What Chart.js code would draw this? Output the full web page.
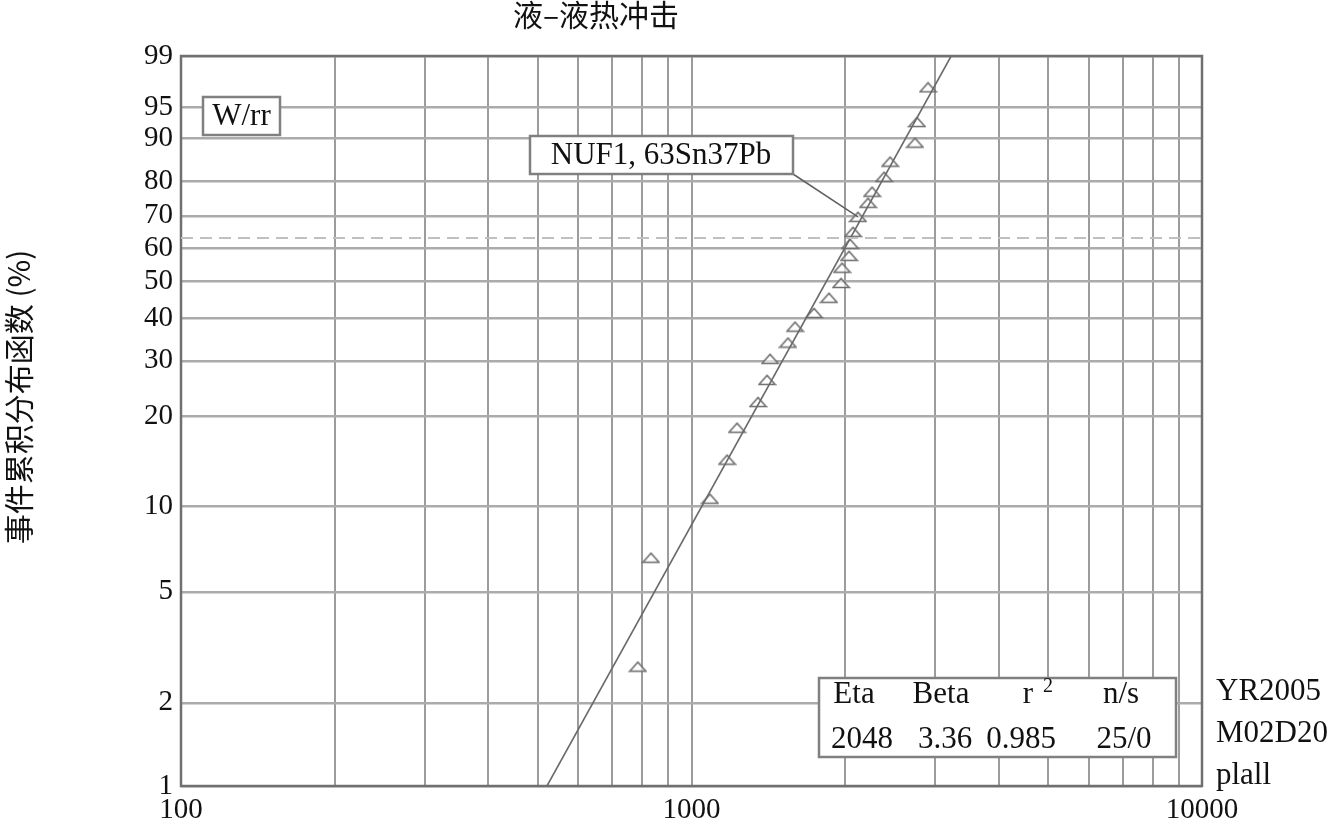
<!DOCTYPE html>
<html>
<head>
<meta charset="utf-8">
<script src="https://cdn.jsdelivr.net/npm/chart.js@4.4.1/dist/chart.umd.min.js"></script>
<style>
html,body{margin:0;padding:0;background:#fff;}
#wrap{width:1327px;height:822px;position:relative;}
</style>
</head>
<body>
<div id="wrap"><canvas id="c" width="1327" height="822"></canvas></div>
<script>
// ---- data ----
const chartTitle = '液–液热冲击';
const yAxisTitle = '事件累积分布函数 (%)';
const yTickPct = [1, 2, 5, 10, 20, 30, 40, 50, 60, 70, 80, 90, 95, 99];
const xGridValues = [100, 200, 300, 400, 500, 600, 700, 800, 900,
                     1000, 2000, 3000, 4000, 5000, 6000, 7000, 8000, 9000, 10000];
const xTickLabels = ['100', '1000', '10000'];
const failureHours = [785, 833, 1087, 1174, 1228, 1350, 1406, 1425, 1545, 1595, 1738, 1859, 1963,
                      1972, 2035, 2044, 2072, 2119, 2217, 2258, 2384, 2449, 2740, 2765, 2906];
const failurePct = [2.7, 6.6, 10.6, 14.4, 18.4, 22.3, 26.2, 30.4, 34.0, 37.8, 41.3, 45.4, 49.6,
                    54.1, 57.7, 61.4, 65.1, 69.7, 73.9, 77.1, 81.2, 85.0, 89.2, 92.9, 97.1];
const fitHours = [521, 3226];
const fitPct = [1, 99];
const refPct = 63.2;
const statHeaders = ['Eta', 'Beta', 'r', 'n/s'];
const statValues = ['2048', '3.36', '0.985', '25/0'];
const sideNotes = ['YR2005', 'M02D20', 'plall'];
const seriesLabel = 'NUF1, 63Sn37Pb';
const methodLabel = 'W/rr';
const labelPointIndex = 17;

// Weibull probability transform
const w = p => Math.log(-Math.log(1 - p / 100));

const SERIF = '"Liberation Serif", "Times New Roman", serif';
const CJK = '"Noto Sans CJK SC", sans-serif';

// flat triangle marker
const tri = document.createElement('canvas');
tri.width = 19; tri.height = 12;
(function(){
  const c = tri.getContext('2d');
  c.strokeStyle = '#6e6e6e'; c.lineWidth = 1.5;
  c.beginPath(); c.moveTo(1.5, 10.5); c.lineTo(17.5, 10.5); c.lineTo(9.5, 1.5); c.closePath();
  c.fillStyle = 'rgba(255,255,255,0.6)'; c.fill(); c.stroke();
})();

const decor = {
  id: 'decor',
  beforeDatasetsDraw(chart) {
    const {ctx, chartArea: a} = chart;
    ctx.save();
    ctx.strokeStyle = '#707070'; ctx.lineWidth = 2.5;
    ctx.strokeRect(a.left, a.top, a.right - a.left, a.bottom - a.top);
    ctx.restore();
  },
  afterDraw(chart) {
    const {ctx, scales} = chart;
    ctx.save();
    // title
    ctx.fillStyle = '#111';
    ctx.font = '30px ' + CJK;
    ctx.textAlign = 'center'; ctx.textBaseline = 'middle';
    ctx.fillText(chartTitle, 596, 15);
    // y title
    ctx.save();
    ctx.translate(19, 397);
    ctx.rotate(-Math.PI / 2);
    ctx.font = '30px ' + CJK;
    ctx.fillText(yAxisTitle, 0, 0);
    ctx.restore();

    function box(x, y, wd, ht) {
      ctx.fillStyle = '#fff';
      ctx.fillRect(x, y, wd, ht);
      ctx.strokeStyle = '#808080'; ctx.lineWidth = 2.5;
      ctx.strokeRect(x, y, wd, ht);
    }
    const F = '31px ' + SERIF;
    // W/rr box
    box(203, 97, 77, 38);
    ctx.fillStyle = '#111'; ctx.font = F;
    ctx.fillText(methodLabel, 241.5, 117);

    // leader line
    const px = scales.x.getPixelForValue(failureHours[labelPointIndex]);
    const py = scales.y.getPixelForValue(w(failurePct[labelPointIndex]));
    ctx.strokeStyle = '#606060'; ctx.lineWidth = 1.5;
    ctx.beginPath(); ctx.moveTo(793, 174); ctx.lineTo(px, py); ctx.stroke();
    // series label box
    box(530, 136, 263, 38);
    ctx.fillStyle = '#111'; ctx.font = F;
    ctx.fillText(seriesLabel, 661, 156);

    // stats box
    box(819, 678, 357, 79);
    ctx.fillStyle = '#111'; ctx.font = F;
    const hx = [854, 941, 1028, 1121];
    const vx = [862, 945, 1021, 1124];
    statHeaders.forEach((t, i) => ctx.fillText(t, hx[i], 695));
    ctx.font = '20px ' + SERIF;
    ctx.fillText('2', 1048, 687);
    ctx.font = F;
    statValues.forEach((t, i) => ctx.fillText(t, vx[i], 740));

    // side notes
    ctx.textAlign = 'left';
    sideNotes.forEach((t, i) => ctx.fillText(t, 1216, 692 + i * 42));
    ctx.restore();
  }
};

new Chart(document.getElementById('c'), {
  type: 'scatter',
  data: {
    datasets: [
      {
        type: 'line',
        data: [{x: 100, y: w(refPct)}, {x: 10000, y: w(refPct)}],
        borderColor: '#c0c0c0', borderWidth: 2, borderDash: [12, 7],
        pointRadius: 0, fill: false
      },
      {
        type: 'line',
        data: fitHours.map((h, i) => ({x: h, y: w(fitPct[i])})),
        borderColor: '#6a6a6a', borderWidth: 1.6,
        pointRadius: 0, fill: false
      },
      {
        data: failureHours.map((h, i) => ({x: h, y: w(failurePct[i])})),
        pointStyle: tri, pointRadius: 8
      }
    ]
  },
  options: {
    responsive: false,
    animation: false,
    devicePixelRatio: 1,
    layout: {padding: {top: 56, right: 125, bottom: 0, left: 0}},
    plugins: {legend: {display: false}, tooltip: {enabled: false}, title: {display: false}},
    scales: {
      x: {
        type: 'logarithmic', min: 100, max: 10000,
        afterBuildTicks: s => { s.ticks = xGridValues.map(v => ({value: v})); },
        afterFit: s => { s.height = 36; },
        ticks: {
          autoSkip: false, maxRotation: 0, minRotation: 0, padding: 7,
          color: '#111', font: {family: SERIF, size: 29},
          callback: v => (xTickLabels.includes(String(v)) ? String(v) : '')
        },
        grid: {color: '#9c9c9c', lineWidth: 2, drawTicks: false},
        border: {display: false}
      },
      y: {
        type: 'linear', min: w(1), max: w(99),
        afterBuildTicks: s => { s.ticks = yTickPct.map(p => ({value: w(p)})); },
        afterFit: s => { s.width = 181; },
        ticks: {
          autoSkip: false, padding: 8,
          color: '#111', font: {family: SERIF, size: 29},
          callback: (v, i) => String(yTickPct[i])
        },
        grid: {color: '#ababab', lineWidth: 2.5, drawTicks: false},
        border: {display: false}
      }
    }
  },
  plugins: [decor]
});
</script>
</body>
</html>
